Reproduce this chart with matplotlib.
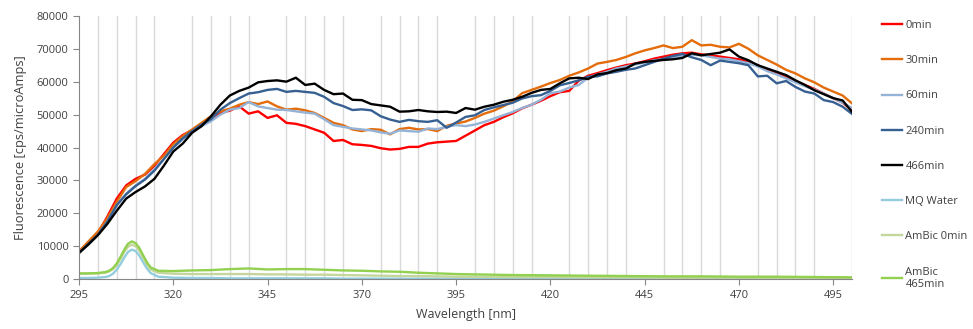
import numpy as np
import matplotlib.pyplot as plt

plt.rcParams['font.family'] = ['Open Sans', 'DejaVu Sans']

# wavelength grid of the main spectra (every 2.5 nm)
wl = np.arange(295, 500.1, 2.5)

# fluorescence, in thousands of cps/microAmps
t0 = [8.5, 11.0, 14.0, 19.0, 24.5, 28.5, 30.5, 31.8, 34.5, 38.0,
      41.5, 43.8, 45.3, 47.0, 49.0, 50.5, 51.2, 52.5, 50.3, 51.0,
      49.0, 49.8, 47.5, 47.2, 46.5, 45.5, 44.5, 42.0, 42.3, 41.0,
      40.8, 40.5, 39.8, 39.4, 39.6, 40.2, 40.2, 41.2, 41.6, 41.8,
      42.0, 43.6, 45.2, 46.8, 47.8, 49.2, 50.4, 51.9, 53.0, 54.2,
      55.6, 56.8, 57.2, 60.3, 61.8, 62.6, 63.5, 64.3, 65.0, 65.5,
      66.2, 67.0, 67.6, 68.2, 68.6, 68.8, 68.3, 68.0, 67.6, 67.2,
      66.8, 66.0, 65.0, 63.5, 62.6, 61.5, 60.2, 59.0, 57.8, 56.4,
      55.0, 53.6, 51.4]
t30 = [8.5, 11.5, 14.5, 18.5, 23.5, 28.0, 29.8, 32.0, 35.0, 37.5,
       41.0, 43.5, 45.5, 47.5, 49.5, 51.0, 51.8, 53.0, 53.8, 53.2,
       54.0, 52.5, 51.5, 51.8, 51.3, 50.5, 49.0, 47.5, 46.8, 45.5,
       45.0, 45.6, 45.4, 44.0, 45.6, 46.0, 45.5, 45.6, 45.0, 46.6,
       47.3, 47.9, 49.0, 50.3, 51.2, 52.5, 54.0, 56.5, 57.5, 58.5,
       59.6, 60.5, 61.8, 62.8, 64.0, 65.5, 66.0, 66.6, 67.5, 68.6,
       69.5, 70.2, 71.0, 70.2, 70.6, 72.6, 71.0, 71.2, 70.6, 70.4,
       71.5, 70.0, 68.0, 66.6, 65.2, 63.6, 62.5, 61.0, 59.8, 58.2,
       57.0, 55.8, 53.4]
t60 = [8.2, 10.5, 13.5, 17.5, 22.5, 26.0, 28.5, 30.5, 33.5, 36.5,
       40.0, 42.5, 44.8, 46.5, 48.0, 50.0, 51.5, 52.0, 53.8, 52.5,
       52.0, 51.5, 51.4, 51.0, 50.6, 50.3, 48.6, 46.8, 46.3, 45.8,
       45.5, 45.2, 44.6, 44.2, 45.2, 45.0, 44.8, 45.8, 45.6, 46.3,
       46.8, 46.5, 47.0, 47.8, 48.8, 49.8, 50.8, 52.0, 53.0, 54.5,
       56.5, 57.0, 58.2, 59.0, 61.2, 62.2, 63.0, 64.0, 64.6, 65.2,
       65.8, 66.5, 66.8, 67.5, 67.8, 68.2, 68.0, 67.5, 67.0, 66.8,
       66.2, 65.6, 64.6, 63.2, 62.2, 61.0, 59.8, 58.6, 57.6, 56.4,
       55.0, 53.6, 52.0]
t240 = [8.0, 10.8, 13.5, 17.5, 22.5, 25.8, 28.3, 30.3, 33.0, 36.5,
        40.0, 42.8, 45.0, 47.0, 48.6, 51.5, 53.5, 55.0, 56.4, 56.8,
        57.5, 57.8, 56.9, 57.2, 56.9, 56.6, 55.4, 53.5, 52.6, 51.4,
        51.6, 51.3, 49.5, 48.5, 47.8, 48.4, 48.0, 47.8, 48.3, 46.0,
        47.6, 49.3, 49.8, 51.4, 52.2, 52.9, 53.6, 54.9, 55.6, 55.9,
        57.2, 58.9, 59.6, 60.4, 61.5, 61.6, 62.5, 63.0, 63.6, 64.0,
        65.0, 66.0, 67.0, 67.8, 68.4, 67.4, 66.6, 65.0, 66.4, 66.0,
        65.6, 65.0, 61.6, 61.8, 59.5, 60.2, 58.4, 57.0, 56.4, 54.4,
        53.8, 52.4, 50.2]
t466 = [8.0, 10.6, 13.4, 16.8, 20.8, 24.5, 26.5, 28.2, 30.5, 34.5,
        38.8, 41.2, 44.5, 46.5, 49.5, 53.0, 55.8, 57.2, 58.2, 59.8,
        60.2, 60.4, 60.0, 61.2, 59.0, 59.4, 57.5, 56.2, 56.4, 54.5,
        54.4, 53.2, 52.8, 52.4, 50.9, 51.0, 51.4, 51.0, 50.8, 50.9,
        50.5, 52.0, 51.5, 52.4, 53.0, 53.9, 54.5, 55.4, 56.6, 57.5,
        57.8, 59.5, 61.0, 61.2, 60.8, 62.2, 62.6, 63.5, 64.0, 65.5,
        66.0, 66.3, 66.6, 66.8, 67.2, 68.6, 68.0, 68.4, 68.8, 69.8,
        67.6, 66.5, 65.0, 64.0, 63.0, 62.0, 60.4, 59.0, 57.4, 56.2,
        55.0, 54.3, 50.8]

# blanks, finer grid around the 309 nm peak
wl_low = [295, 297, 300, 302, 303, 304, 305, 306, 307, 308,
          309, 310, 311, 312, 313, 314, 316, 320, 325, 330,
          335, 340, 345, 350, 355, 360, 365, 370, 375, 380,
          385, 390, 395, 400, 410, 420, 430, 440, 450, 460,
          470, 480, 490, 500]
mq = [0.4, 0.4, 0.5, 0.7, 1.0, 1.7, 2.9, 4.6, 6.6, 8.3,
      9.0, 8.6, 7.2, 5.2, 3.3, 1.9, 0.8, 0.5, 0.4, 0.4,
      0.3, 0.3, 0.3, 0.3, 0.3, 0.3, 0.2, 0.2, 0.2, 0.2,
      0.2, 0.2, 0.2, 0.2, 0.1, 0.1, 0.1, 0.1, 0.1, 0.1,
      0.1, 0.1, 0.1, 0.1]
ambic0 = [1.7, 1.7, 1.8, 2.0, 2.4, 3.1, 4.3, 6.2, 8.3, 9.9,
          10.5, 10.1, 8.7, 6.6, 4.6, 3.0, 2.0, 1.7, 1.6, 1.6,
          1.6, 1.6, 1.5, 1.5, 1.4, 1.4, 1.3, 1.2, 1.1, 1.0,
          1.0, 0.9, 0.8, 0.8, 0.7, 0.7, 0.6, 0.6, 0.5, 0.5,
          0.5, 0.4, 0.4, 0.4]
ambic465 = [1.8, 1.8, 1.9, 2.2, 2.6, 3.4, 4.8, 6.8, 9.0, 10.8,
            11.5, 11.0, 9.5, 7.3, 5.2, 3.6, 2.6, 2.5, 2.7, 2.8,
            3.1, 3.3, 3.0, 3.1, 3.1, 2.9, 2.7, 2.6, 2.4, 2.3,
            2.0, 1.8, 1.6, 1.5, 1.3, 1.2, 1.1, 1.0, 0.9, 0.9,
            0.8, 0.8, 0.7, 0.6]

fig = plt.figure(figsize=(9.73, 3.29), dpi=100)
ax = fig.add_axes([0.0812, 0.151, 0.7945, 0.801])

lw = 1.7
k = 1000
ax.plot(wl, np.array(t0) * k, color='#FF0000', lw=lw, label='0min')
ax.plot(wl, np.array(t30) * k, color='#E46C0A', lw=lw, label='30min')
ax.plot(wl, np.array(t60) * k, color='#95B3D7', lw=lw, label='60min')
ax.plot(wl, np.array(t240) * k, color='#376092', lw=lw, label='240min')
ax.plot(wl, np.array(t466) * k, color='#000000', lw=lw, label='466min')
ax.plot(wl_low, np.array(mq) * k, color='#93CDDD', lw=lw, label='MQ Water')
ax.plot(wl_low, np.array(ambic0) * k, color='#C3D69B', lw=lw, label='AmBic 0min')
ax.plot(wl_low, np.array(ambic465) * k, color='#92D050', lw=lw, label='AmBic\n465min')

ax.set_xlim(295, 500)
ax.set_ylim(0, 80000)
ax.set_xticks(np.arange(295, 500, 25))
ax.set_xticks(np.arange(300, 501, 5), minor=True)
ax.set_yticks(np.arange(0, 80001, 10000))
ax.grid(True, which='minor', axis='x', color='#D9D9D9', lw=1)
ax.set_axisbelow(True)

for s in ['top', 'right']:
    ax.spines[s].set_visible(False)
for s in ['left', 'bottom']:
    ax.spines[s].set_color('#868686')
ax.tick_params(axis='both', which='major', labelsize=8, colors='#868686',
               labelcolor='#404040', length=4)
ax.tick_params(axis='x', which='minor', length=0)

ax.set_xlabel('Wavelength [nm]', fontsize=9, color='#404040', labelpad=5)
ax.set_ylabel('Fluorescence [cps/microAmps]', fontsize=9.3, color='#404040', labelpad=7)

fig.legend(loc='upper left', bbox_to_anchor=(882 / 973, 1 - 20 / 329),
           frameon=False, fontsize=8, labelspacing=2.18, handlelength=1.8,
           handletextpad=0.3, borderpad=0, borderaxespad=0, labelcolor='#404040')

fig.savefig('out.png', dpi=100)
